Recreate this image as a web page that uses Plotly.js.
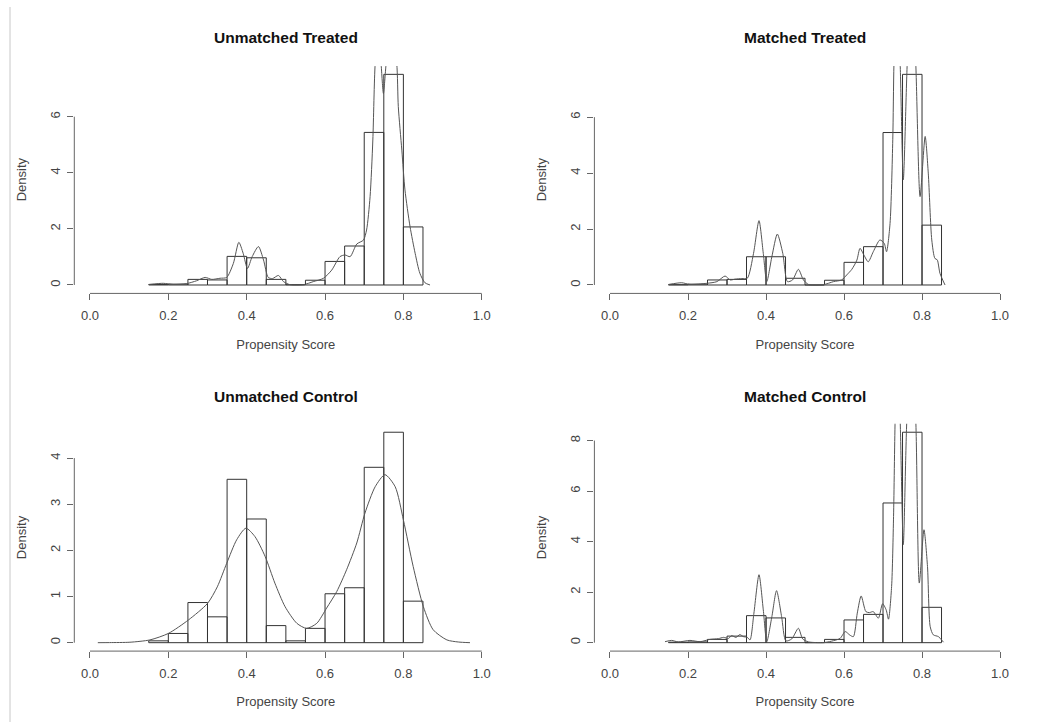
<!DOCTYPE html>
<html>
<head>
<meta charset="utf-8">
<script src="https://cdn.plot.ly/plotly-3.0.1.min.js"></script>
<style>html,body{margin:0;padding:0;background:#fff;}#chart{width:1045px;height:722px;}</style>
</head>
<body>
<div id="chart"></div>
<script>
// ---- Data ----
const panelTitles = ["Unmatched Treated", "Matched Treated", "Unmatched Control", "Matched Control"];
const xAxisTitle = "Propensity Score";
const yAxisTitle = "Density";

// histogram bins: width 0.05 from 0.15 to 0.85
const binCenters = [0.175,0.225,0.275,0.325,0.375,0.425,0.475,0.525,0.575,0.625,0.675,0.725,0.775,0.825];
const binWidth = 0.05;

const histUnmatchedTreated = [0.02,0.03,0.20,0.18,1.02,0.97,0.20,0.01,0.17,0.84,1.39,5.44,7.51,2.07];
const histMatchedTreated   = [0.01,0.03,0.18,0.20,1.01,1.01,0.24,0.00,0.17,0.81,1.37,5.45,7.53,2.14];
const histUnmatchedControl = [0.04,0.20,0.87,0.56,3.54,2.68,0.37,0.04,0.31,1.06,1.19,3.80,4.56,0.90];
const histMatchedControl   = [0.02,0.03,0.13,0.26,1.07,0.98,0.21,0.00,0.13,0.90,1.12,5.53,8.33,1.40];

// density curves
const densUTx = [0.151,0.187,0.213,0.247,0.272,0.294,0.311,0.332,0.349,0.366,0.380,0.391,0.402,0.414,0.430,0.443,0.455,0.466,0.481,0.494,0.511,0.545,0.570,0.596,0.617,0.638,0.651,0.664,0.681,0.698,0.706,0.715,0.722,0.728,0.736,0.743,0.749,0.756,0.768,0.783,0.787,0.796,0.804,0.817,0.830,0.842,0.855,0.868];
const densUTy = [0.02,0.06,0.02,0.05,0.15,0.27,0.20,0.24,0.27,0.77,1.52,1.13,0.59,1.01,1.37,0.89,0.27,0.23,0.34,0.12,0.01,0.01,0.12,0.24,0.53,1.01,1.07,1.01,1.46,1.60,1.96,3.15,5.17,7.90,9.00,7.90,6.83,7.90,9.30,7.90,6.36,4.81,3.39,2.08,1.13,0.42,0.08,0.00];

const densMTx = [0.150,0.184,0.205,0.248,0.274,0.295,0.308,0.321,0.338,0.352,0.368,0.382,0.393,0.402,0.415,0.429,0.443,0.455,0.468,0.483,0.496,0.509,0.547,0.573,0.594,0.607,0.620,0.633,0.641,0.651,0.662,0.675,0.692,0.703,0.709,0.718,0.725,0.728,0.736,0.744,0.752,0.762,0.773,0.784,0.795,0.808,0.816,0.825,0.833,0.839,0.846,0.859];
const densMTy = [0.02,0.08,0.02,0.06,0.12,0.32,0.18,0.21,0.23,0.24,1.13,2.30,1.13,0.12,1.01,1.82,1.13,0.12,0.18,0.56,0.18,0.02,0.01,0.12,0.18,0.36,0.56,0.89,1.31,1.07,0.83,1.19,1.61,1.49,1.19,2.20,5.19,7.90,11.0,7.90,3.76,7.90,11.0,7.90,3.16,5.31,4.00,1.61,0.95,0.90,0.42,0.00];

const densUCx = [0.02,0.05,0.102,0.153,0.200,0.251,0.300,0.325,0.349,0.3745,0.398,0.421,0.447,0.472,0.498,0.528,0.553,0.579,0.604,0.630,0.655,0.681,0.702,0.728,0.753,0.779,0.800,0.825,0.851,0.876,0.911,0.940,0.970];
const densUCy = [0.00,0.002,0.01,0.06,0.20,0.49,0.85,1.21,1.72,2.23,2.48,2.30,1.87,1.29,0.78,0.42,0.31,0.42,0.75,1.11,1.58,2.16,2.81,3.38,3.64,3.38,2.66,1.65,0.78,0.28,0.06,0.015,0.00];

const densMCx = [0.141,0.158,0.175,0.205,0.231,0.256,0.278,0.291,0.304,0.312,0.323,0.333,0.342,0.352,0.359,0.369,0.382,0.393,0.402,0.415,0.427,0.440,0.451,0.466,0.483,0.494,0.509,0.551,0.573,0.590,0.603,0.615,0.624,0.634,0.644,0.656,0.665,0.675,0.688,0.699,0.708,0.714,0.722,0.727,0.731,0.737,0.744,0.752,0.761,0.773,0.784,0.793,0.805,0.814,0.821,0.829,0.842,0.855];
const densMCy = [0.04,0.09,0.03,0.09,0.04,0.13,0.16,0.21,0.17,0.28,0.21,0.32,0.24,0.21,0.11,1.17,2.69,1.30,0.04,1.03,2.06,1.03,0.07,0.15,0.57,0.15,0.03,0.01,0.08,0.17,0.44,0.30,0.24,1.17,1.85,1.23,1.19,1.23,0.97,1.54,1.30,0.93,2.22,5.00,8.80,12.0,8.80,3.88,8.80,12.0,8.80,2.36,4.47,3.02,0.63,0.31,0.24,0.02];

// tick labels
const xTickVals = [0,0.2,0.4,0.6,0.8,1.0];
const xTickText = ["0.0","0.2","0.4","0.6","0.8","1.0"];
const yTicksUT = [0,2,4,6];
const yTicksMT = [0,2,4,6];
const yTicksUC = [0,1,2,3,4];
const yTicksMC = [0,2,4,6,8];

// ---- Build figure ----
const FONT = "Liberation Sans, Arial, Helvetica, sans-serif";
const panels = [
  {hist: histUnmatchedTreated, dx: densUTx, dy: densUTy, yt: yTicksUT, xd:[0.0711,0.4760], yd:[0.5936,0.9087]},
  {hist: histMatchedTreated,   dx: densMTx, dy: densMTy, yt: yTicksMT, xd:[0.5688,0.9719], yd:[0.5936,0.9087]},
  {hist: histUnmatchedControl, dx: densUCx, dy: densUCy, yt: yTicksUC, xd:[0.0711,0.4760], yd:[0.0982,0.4130]},
  {hist: histMatchedControl,   dx: densMCx, dy: densMCy, yt: yTicksMC, xd:[0.5688,0.9719], yd:[0.0982,0.4130]}
];

const traces = [];
const layout = {
  width: 1045, height: 722,
  margin: {l:0, r:0, t:0, b:0},
  paper_bgcolor: "#ffffff", plot_bgcolor: "rgba(0,0,0,0)",
  showlegend: false,
  font: {family: FONT, color: "#444"},
  shapes: [
    {type:"line", xref:"paper", yref:"paper", x0:10/1045, x1:10/1045, y0:0, y1:1-7/722, line:{color:"#c8c8c8", width:1}}
  ],
  annotations: []
};

panels.forEach((p, i) => {
  const n = i + 1;
  const xa = "x" + (n === 1 ? "" : n);
  const ya = "y" + (n === 1 ? "" : n);
  const ymax = Math.max(...p.hist);
  traces.push({
    type: "bar", x: binCenters, y: p.hist, width: binWidth,
    xaxis: xa, yaxis: ya,
    marker: {color: "rgba(0,0,0,0)", line: {color: "#333", width: 1}},
    hoverinfo: "skip"
  });
  traces.push({
    type: "scatter", mode: "lines", x: p.dx, y: p.dy,
    xaxis: xa, yaxis: ya,
    line: {color: "#555", width: 1, shape: "spline", smoothing: 0.7},
    hoverinfo: "skip"
  });
  const axX = "xaxis" + (n === 1 ? "" : n);
  const axY = "yaxis" + (n === 1 ? "" : n);
  layout[axX] = {
    domain: p.xd, anchor: ya, range: [-0.04, 1.04],
    showgrid: false, zeroline: false, showline: false,
    ticks: "outside", ticklen: 6, tickwidth: 1, tickcolor: "#666",
    tickvals: xTickVals, ticktext: xTickText,
    tickfont: {family: FONT, size: 13, color: "#444"},
    ticklabelstandoff: 4,
    title: {text: xAxisTitle, font: {family: FONT, size: 13, color: "#444"}, standoff: 17},
    fixedrange: true
  };
  layout[axY] = {
    domain: p.yd, anchor: xa, range: [-0.04 * ymax, 1.04 * ymax],
    showgrid: false, zeroline: false, showline: false,
    ticks: "outside", ticklen: 6, tickwidth: 1, tickcolor: "#666",
    tickvals: p.yt, ticktext: p.yt.map(String), tickangle: -90,
    tickfont: {family: FONT, size: 13, color: "#444"},
    ticklabelstandoff: 2,
    title: {text: yAxisTitle, font: {family: FONT, size: 13, color: "#444"}, standoff: 18},
    fixedrange: true
  };
  // R-style axis lines spanning first to last tick
  layout.shapes.push({type:"line", xref: xa, yref: ya + " domain",
    x0: xTickVals[0], x1: xTickVals[xTickVals.length-1], y0: 0, y1: 0, line:{color:"#666", width:1}});
  layout.shapes.push({type:"line", xref: xa + " domain", yref: ya,
    x0: 0, x1: 0, y0: p.yt[0], y1: p.yt[p.yt.length-1], line:{color:"#666", width:1}});
  // panel title
  layout.annotations.push({
    text: "<b>" + panelTitles[i] + "</b>", xref: "paper", yref: "paper",
    x: (p.xd[0] + p.xd[1]) / 2, y: (n <= 2) ? 1 - 38/722 : 1 - 396/722,
    xanchor: "center", yanchor: "middle", showarrow: false,
    font: {family: FONT, size: 15.5, color: "#111"}
  });
});

Plotly.newPlot("chart", traces, layout, {staticPlot: true, displayModeBar: false});
</script>
</body>
</html>
